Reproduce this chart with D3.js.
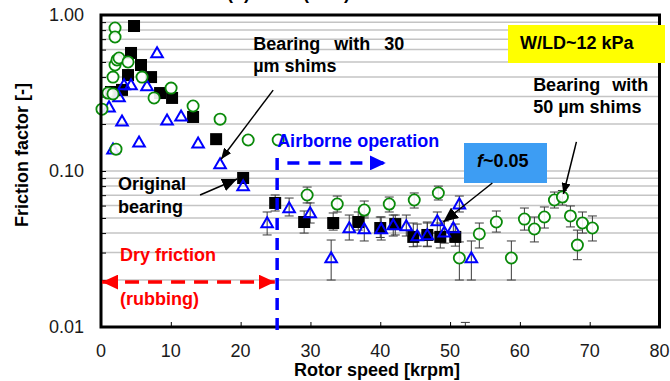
<!DOCTYPE html>
<html>
<head>
<meta charset="utf-8">
<script src="https://cdn.jsdelivr.net/npm/d3@7"></script>
<style>
  html, body { margin: 0; padding: 0; background: #fff; }
  svg { display: block; font-family: "Liberation Sans", Arial, sans-serif; }
</style>
</head>
<body>
<svg id="chart" width="670" height="381"></svg>
<script>
// Friction factor vs rotor speed, three bearing configurations.
// Each row: [rotor speed (krpm), friction factor, lower bound, upper bound]
const originalBearing = [
  [1.43, 0.321], [3.01, 0.331], [3.87, 0.412], [4.30, 0.571], [4.73, 0.850],
  [5.73, 0.478], [7.17, 0.400], [8.46, 0.316], [10.18, 0.294], [13.19, 0.222],
  [16.49, 0.160], [20.36, 0.0902],
  [24.95, 0.0624, 0.0554, 0.0702], [29.10, 0.0471, 0.0400, 0.0554],
  [33.26, 0.0464, 0.0418, 0.0538], [36.85, 0.0471, 0.0418, 0.0546],
  [40.00, 0.0431, 0.0375, 0.0507], [42.15, 0.0457, 0.0389, 0.0522],
  [44.73, 0.0378, 0.0327, 0.0464], [46.74, 0.0389, 0.0330, 0.0471],
  [48.60, 0.0378, 0.0321, 0.0464], [50.75, 0.0378, 0.0330, 0.0457]
];
const shims30 = [
  [1.15, 0.257], [1.72, 0.138], [2.58, 0.298], [3.01, 0.209], [3.30, 0.356],
  [4.30, 0.356], [5.45, 0.153], [6.59, 0.351], [8.03, 0.571], [9.46, 0.212],
  [11.47, 0.225], [13.91, 0.151], [17.06, 0.111], [20.36, 0.0801],
  [23.80, 0.0464, 0.0389, 0.0546], [26.95, 0.0579, 0.0515, 0.0671],
  [29.96, 0.0538, 0.0464, 0.0624], [32.97, 0.0277, 0.0200, 0.0361],
  [35.56, 0.0431, 0.0361, 0.0522], [37.71, 0.0425, 0.0356, 0.0515],
  [40.14, 0.0425, 0.0361, 0.0507], [41.86, 0.0451, 0.0383, 0.0522],
  [43.73, 0.0444, 0.0383, 0.0522], [45.30, 0.0383, 0.0330, 0.0457],
  [46.74, 0.0389, 0.0327, 0.0464], [48.17, 0.0478, 0.0400, 0.0546],
  [49.18, 0.0406, 0.0345, 0.0478], [50.47, 0.0431, 0.0361, 0.0500],
  [51.33, 0.0614, 0.0546, 0.0691], [53.05, 0.0277, 0.0200, 0.0356]
];
const shims50 = [
  [0.14, 0.249], [1.00, 0.316], [1.72, 0.312], [1.72, 0.400], [2.01, 0.825],
  [2.01, 0.723], [2.01, 0.478], [2.15, 0.138], [2.29, 0.515], [2.58, 0.530],
  [3.87, 0.500], [5.88, 0.400], [7.60, 0.294], [10.04, 0.340], [13.19, 0.261],
  [17.06, 0.215], [21.08, 0.158], [25.38, 0.158],
  [29.53, 0.0702, 0.0624, 0.0789], [33.84, 0.0614, 0.0546, 0.0691],
  [37.71, 0.0562, 0.0500, 0.0642], [41.29, 0.0614, 0.0546, 0.0681],
  [44.87, 0.0652, 0.0579, 0.0723], [48.32, 0.0723, 0.0652, 0.0800],
  [51.33, 0.0277, 0.0200, 0.0351], [52.19, 0.0085, 0.0070, 0.0107],
  [54.19, 0.0395, 0.0321, 0.0464], [56.63, 0.0471, 0.0406, 0.0554],
  [58.78, 0.0277, 0.0200, 0.0356], [60.65, 0.0492, 0.0418, 0.0579],
  [62.08, 0.0425, 0.0351, 0.0507], [63.51, 0.0507, 0.0431, 0.0588],
  [64.95, 0.0652, 0.0579, 0.0733], [66.09, 0.0681, 0.0605, 0.0750],
  [67.24, 0.0515, 0.0438, 0.0597], [68.24, 0.0335, 0.0270, 0.0418],
  [68.96, 0.0464, 0.0400, 0.0546], [70.39, 0.0431, 0.0356, 0.0515]
];
const speedTicks = [0, 10, 20, 30, 40, 50, 60, 70, 80];
const frictionTicks = [1, 0.1, 0.01];
const frictionTickLabels = ["1.00", "0.10", "0.01"];
const gridValues = [0.02, 0.03, 0.04, 0.05, 0.06, 0.07, 0.08, 0.09, 0.1,
                    0.2, 0.3, 0.4, 0.5, 0.6, 0.7, 0.8, 0.9];

const svg = d3.select("#chart");
const plot = { left: 101, right: 659.5, top: 15, bottom: 327 };

const x = d3.scaleLinear().domain([0, 80]).range([plot.left, plot.right]);
const y = d3.scaleLog().domain([0.01, 1]).range([plot.bottom, plot.top]);

const FONT = "'Liberation Sans', Arial, sans-serif";
const BLUE = "#0000ff", GREEN = "#0a8a0a", RED = "#ff0000";

// arrowheads
const defs = svg.append("defs");
function marker(id, color, w, h) {
  defs.append("marker").attr("id", id)
    .attr("viewBox", `0 0 ${w} ${h}`).attr("refX", w).attr("refY", h / 2)
    .attr("markerWidth", w).attr("markerHeight", h)
    .attr("markerUnits", "userSpaceOnUse").attr("orient", "auto-start-reverse")
    .append("path").attr("d", `M0,0L${w},${h / 2}L0,${h}Z`).attr("fill", color);
}
marker("headBlack", "#000", 11, 9);
marker("headBig", "#000", 15, 13);
marker("headBlue", BLUE, 16, 15);
marker("headRed", RED, 16, 15);

defs.append("clipPath").attr("id", "plotClip")
  .append("rect").attr("x", 90).attr("y", 0)
  .attr("width", 580).attr("height", plot.bottom);

// heading, mostly above the top edge of the page
svg.append("text").attr("x", 227).attr("y", -1)
  .attr("font-family", FONT).attr("font-weight", "bold").attr("font-size", 18)
  .style("white-space", "pre").text("(b) Case (new)");

// grid lines
svg.append("g").selectAll("line").data(gridValues).join("line")
  .attr("x1", plot.left).attr("x2", plot.right)
  .attr("y1", d => y(d)).attr("y2", d => y(d))
  .attr("stroke", "#c4c4c4").attr("stroke-width", 1.5);

// minor ticks on the left axis
const yAxis = d3.axisLeft(y).tickValues(gridValues).tickSize(-5).tickFormat("");
svg.append("g").attr("transform", `translate(${plot.left},0)`).call(yAxis)
  .call(g => g.select(".domain").remove())
  .call(g => g.selectAll("line").attr("stroke", "#000").attr("stroke-width", 1));

// x ticks pointing inward
const xAxis = d3.axisBottom(x).tickValues(speedTicks.slice(1, -1)).tickSize(-5).tickFormat("");
svg.append("g").attr("transform", `translate(0,${plot.bottom})`).call(xAxis)
  .call(g => g.select(".domain").remove())
  .call(g => g.selectAll("line").attr("stroke", "#000").attr("stroke-width", 1));

// tick labels
svg.append("g").selectAll("text").data(speedTicks).join("text")
  .attr("x", d => x(d)).attr("y", 357).attr("text-anchor", "middle")
  .attr("font-family", FONT).attr("font-size", 18).attr("fill", "#1a1a1a")
  .text(d => d);
svg.append("g").selectAll("text").data(frictionTicks).join("text")
  .attr("x", 84).attr("y", d => y(d)).attr("dy", "0.36em").attr("text-anchor", "end")
  .attr("font-family", FONT).attr("font-size", 18).attr("fill", "#1a1a1a")
  .text((d, i) => frictionTickLabels[i]);

// axis titles
svg.append("text").attr("x", 377).attr("y", 376).attr("text-anchor", "middle")
  .attr("font-family", FONT).attr("font-weight", "bold").attr("font-size", 18)
  .text("Rotor speed [krpm]");
svg.append("text").attr("transform", "translate(28,155) rotate(-90)")
  .attr("text-anchor", "middle")
  .attr("font-family", FONT).attr("font-weight", "bold").attr("font-size", 18)
  .text("Friction factor [-]");

// data marks
const marks = svg.append("g").attr("clip-path", "url(#plotClip)");
const withErr = s => s.filter(d => d.length === 4);
const allErr = [...withErr(originalBearing), ...withErr(shims30), ...withErr(shims50)];
const eb = marks.append("g").attr("stroke", "#3a3a3a").attr("stroke-width", 1);
eb.selectAll(".v").data(allErr).join("line")
  .attr("x1", d => x(d[0])).attr("x2", d => x(d[0]))
  .attr("y1", d => y(d[2])).attr("y2", d => y(d[3]));
eb.selectAll(".lo").data(allErr).join("line")
  .attr("x1", d => x(d[0]) - 4.5).attr("x2", d => x(d[0]) + 4.5)
  .attr("y1", d => y(d[2])).attr("y2", d => y(d[2]));
eb.selectAll(".hi").data(allErr).join("line")
  .attr("x1", d => x(d[0]) - 4.5).attr("x2", d => x(d[0]) + 4.5)
  .attr("y1", d => y(d[3])).attr("y2", d => y(d[3]));

marks.append("g").selectAll("rect").data(originalBearing).join("rect")
  .attr("x", d => x(d[0]) - 6).attr("y", d => y(d[1]) - 6)
  .attr("width", 12).attr("height", 12).attr("fill", "#000");

const tri = d3.symbol().type(d3.symbolTriangle).size(58);
marks.append("g").selectAll("path").data(shims30).join("path")
  .attr("d", tri).attr("transform", d => `translate(${x(d[0])},${y(d[1]) + 1})`)
  .attr("fill", "none").attr("stroke", BLUE).attr("stroke-width", 2);

marks.append("g").selectAll("circle").data(shims50).join("circle")
  .attr("cx", d => x(d[0])).attr("cy", d => y(d[1])).attr("r", 5.6)
  .attr("fill", "#fff").attr("fill-opacity", 0.9)
  .attr("stroke", GREEN).attr("stroke-width", 1.8);

// frame
svg.append("rect").attr("x", plot.left).attr("y", plot.top)
  .attr("width", plot.right - plot.left).attr("height", plot.bottom - plot.top)
  .attr("fill", "none").attr("stroke", "#000").attr("stroke-width", 3);

// regime markers
svg.append("line").attr("x1", x(25.23)).attr("x2", x(25.23))
  .attr("y1", y(0.121)).attr("y2", plot.bottom + 7)
  .attr("stroke", BLUE).attr("stroke-width", 3.5).attr("stroke-dasharray", "12,8");
svg.append("line").attr("x1", x(26.7)).attr("x2", x(40.8))
  .attr("y1", y(0.1126)).attr("y2", y(0.1126))
  .attr("stroke", BLUE).attr("stroke-width", 3.5).attr("stroke-dasharray", "12,9")
  .attr("marker-end", "url(#headBlue)");
svg.append("line").attr("x1", x(0.15)).attr("x2", x(24.9))
  .attr("y1", y(0.0194)).attr("y2", y(0.0194))
  .attr("stroke", RED).attr("stroke-width", 3.5).attr("stroke-dasharray", "14,9")
  .attr("marker-start", "url(#headRed)").attr("marker-end", "url(#headRed)");

// multi-line bold labels; per-line word spacing
function label(lines, sx, fv, opts = {}) {
  const t = svg.append("text").attr("x", x(sx)).attr("y", y(fv))
    .attr("font-family", FONT).attr("font-weight", "bold").attr("font-size", 18)
    .attr("fill", opts.color || "#000").style("white-space", "pre");
  lines.forEach((l, i) => t.append("tspan").attr("x", x(sx))
    .attr("dy", i ? (opts.lh || 22) : 0)
    .attr("word-spacing", (opts.ws && opts.ws[i]) || 0).text(l));
  return t;
}
label(["Bearing with 30", "\u00b5m shims"], 21.8, 0.596, { ws: [9, 0] });
label(["Original", "bearing"], 2.44, 0.0757, { lh: 23 });
label(["Airborne operation"], 25.23, 0.1428, { color: BLUE });
label(["Dry friction"], 2.72, 0.0264, { color: RED });
label(["(rubbing)"], 2.72, 0.0139, { color: RED });
label(["Bearing with", "50 \u00b5m shims"], 61.9, 0.326, { ws: [7, 0] });

// load box
svg.append("rect").attr("x", 508).attr("y", 25).attr("width", 157).attr("height", 38)
  .attr("fill", "#ffff00");
svg.append("text").attr("x", 520).attr("y", 49)
  .attr("font-family", FONT).attr("font-weight", "bold").attr("font-size", 18)
  .text("W/LD~12 kPa");

// friction level box
svg.append("rect").attr("x", 464).attr("y", 143).attr("width", 83).attr("height", 40)
  .attr("fill", "#3d9df3");
const ft = svg.append("text").attr("x", 477).attr("y", 167)
  .attr("font-family", FONT).attr("font-weight", "bold").attr("font-size", 18);
ft.append("tspan").attr("font-style", "italic").text("f");
ft.append("tspan").text("~0.05");

// pointer arrows
function arrow(s0, f0, s1, f1, head) {
  svg.append("line").attr("x1", x(s0)).attr("y1", y(f0)).attr("x2", x(s1)).attr("y2", y(f1))
    .attr("stroke", "#000").attr("stroke-width", 1.5).attr("marker-end", `url(#${head})`);
}
arrow(24.66, 0.330, 17.2, 0.119, "headBlack");
arrow(14.19, 0.0702, 19.5, 0.0889, "headBig");
arrow(56.06, 0.0838, 49.03, 0.0471, "headBig");
arrow(68.1, 0.1537, 66.24, 0.0712, "headBlack");
</script>
</body>
</html>
